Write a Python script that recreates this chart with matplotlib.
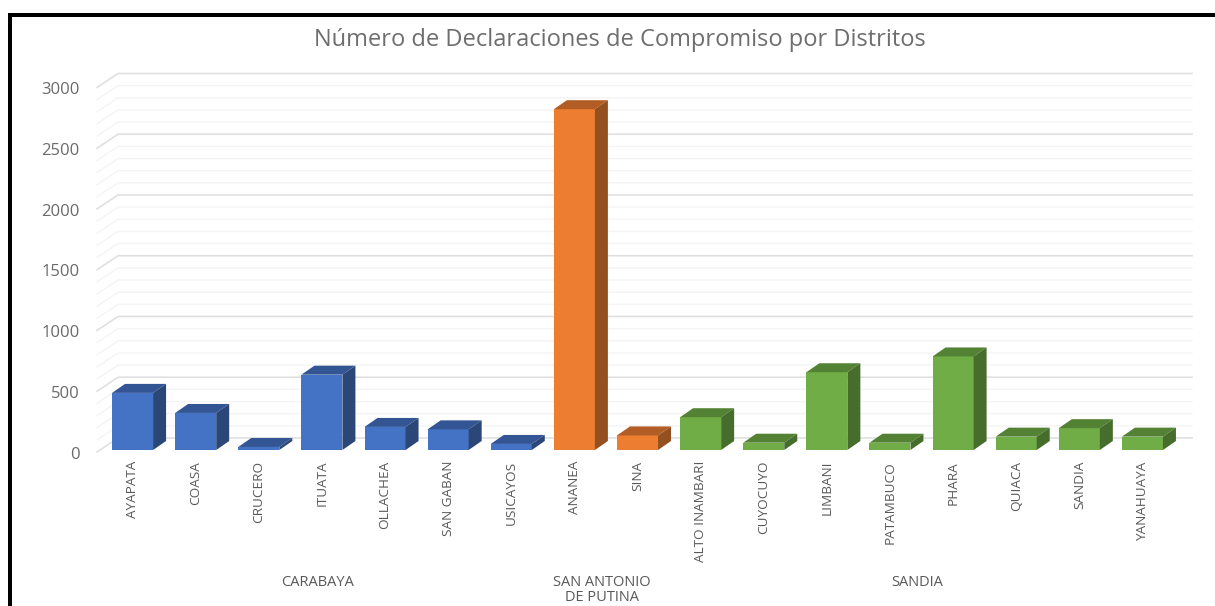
import matplotlib
matplotlib.use("Agg")
import matplotlib.pyplot as plt
from matplotlib.patches import Polygon, Rectangle

distritos = ["AYAPATA", "COASA", "CRUCERO", "ITUATA", "OLLACHEA", "SAN GABAN", "USICAYOS",
             "ANANEA", "SINA",
             "ALTO INAMBARI", "CUYOCUYO", "LIMBANI", "PATAMBUCO", "PHARA", "QUIACA", "SANDIA", "YANAHUAYA"]
valores = [470, 305, 25, 620, 190, 170, 50,
           2805, 120,
           270, 60, 640, 60, 770, 110, 180, 110]
grupos = ["CARABAYA", "SAN ANTONIO\nDE PUTINA", "SANDIA"]
tam_grupos = [7, 2, 8]
colores = [("#4472c4", "#335593", "#2a4778"),
           ("#ed7d31", "#b25d25", "#95501f"),
           ("#70ad47", "#548235", "#466d2c")]
ticks_y = [0, 500, 1000, 1500, 2000, 2500, 3000]

W, H = 1215, 606
plt.rcParams['font.family'] = ['Open Sans', 'DejaVu Sans']

fig = plt.figure(figsize=(W/100, H/100), dpi=100)
# plot area in pixels
x0, x1, ybot, ytop = 101, 1174, 450, 85.5
ax = fig.add_axes([x0/W, 1-ybot/H, (x1-x0)/W, (ybot-ytop)/H])
ax.set_xlim(-0.5, 16.5)
ax.set_ylim(0, 3000)
ax.axis("off")

# depth of the bars and of the floor, in data units
prof_x, prof_y = 0.206, 74
ancho = 0.65
piso_front_x, piso_front_y = -0.063, -16
piso_back_x, piso_back_y = 0.27, 99
fin_x = 16.785

for v in range(0, 3001, 100):
    mayor = v % 500 == 0
    c = "#e0e0e0" if mayor else "#f4f4f4"
    lw = 1.2 if mayor else 1.0
    ax.plot([-0.5+piso_front_x, -0.5+piso_back_x, fin_x],
            [v+piso_front_y, v+piso_back_y, v+piso_back_y],
            color=c, lw=lw, clip_on=False, zorder=1)

for v in ticks_y:
    ax.text(-0.5+piso_front_x-0.275, v-38, str(v), ha="right", va="center",
            fontsize=12, color="#6a6a6a", clip_on=False)

i = 0
for g, n in enumerate(tam_grupos):
    frente, arriba, lado = colores[g]
    for k in range(n):
        l = i - ancho/2
        r = i + ancho/2
        h = valores[i]
        ax.bar(i, h, width=ancho, color=frente, zorder=3, clip_on=False)
        ax.add_patch(Polygon([(l, h), (r, h), (r+prof_x, h+prof_y), (l+prof_x, h+prof_y)],
                             closed=True, fc=arriba, ec="none", zorder=3, clip_on=False))
        ax.add_patch(Polygon([(r, 0), (r+prof_x, prof_y), (r+prof_x, h+prof_y), (r, h)],
                             closed=True, fc=lado, ec="none", zorder=3, clip_on=False))
        ax.text(i, -90, distritos[i], rotation=90, ha="center", va="top",
                fontsize=9.7, color="#595959", clip_on=False)
        i += 1

inicio = 0
for g, n in zip(grupos, tam_grupos):
    centro = inicio + (n-1)/2 - 0.07
    ax.text(centro, -1025, g, ha="center", va="top", fontsize=10.5, color="#595959",
            linespacing=1.05, clip_on=False)
    inicio += n

fig.text(620/W, 1-39.5/H, "Número de Declaraciones de Compromiso por Distritos", ha="center", va="center",
         fontsize=17, color="#6e6e6e")

# black frame of the screenshot
fig.add_artist(Rectangle((8/W, 1-17/H), 4/W, 17/H-1, transform=fig.transFigure, fc="black", ec="none"))
fig.add_artist(Rectangle((8/W, 1-17/H), 1207/W, 4/H, transform=fig.transFigure, fc="black", ec="none"))

fig.savefig("out.png", dpi=100)
